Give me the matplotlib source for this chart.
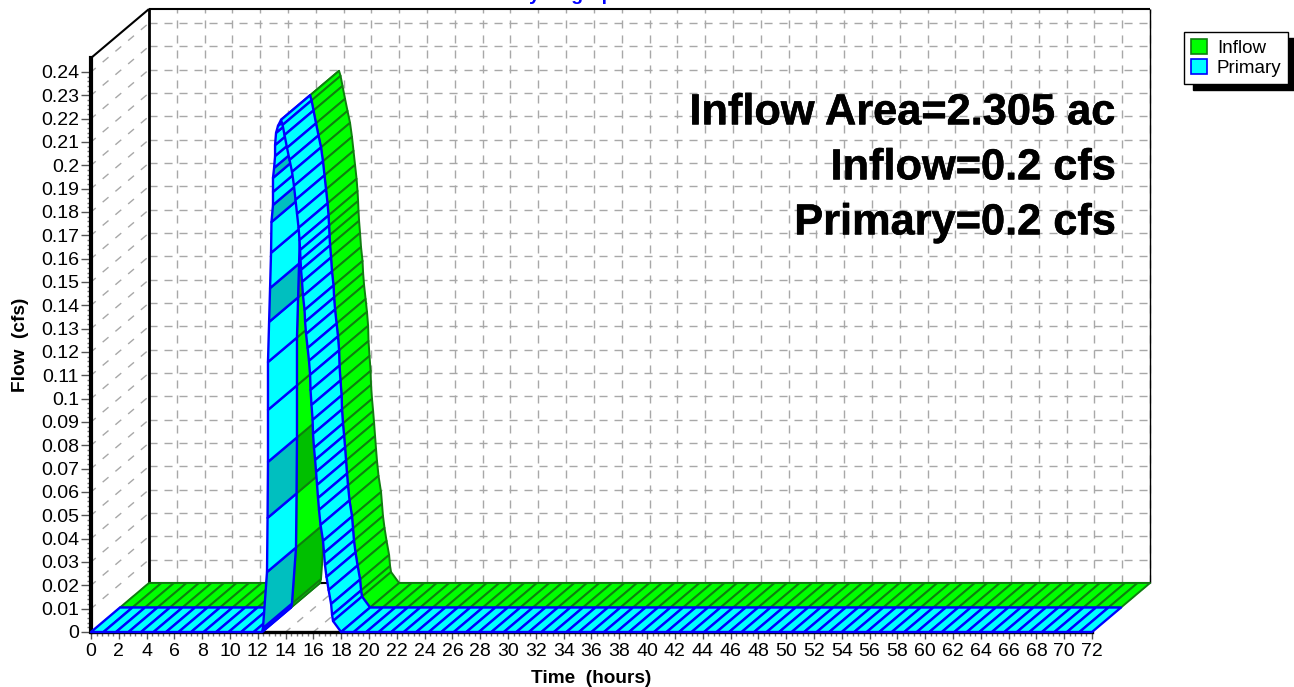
import matplotlib
matplotlib.use("Agg")
import matplotlib.pyplot as plt
import matplotlib.patheffects as pe
from matplotlib.patches import Patch, Polygon

plt.rcParams['font.family'] = ['Liberation Sans', 'DejaVu Sans']

# Hydrograph, inflow and primary sit on the same curve
flat_before = [0, 0.9, 1.8, 2.7, 3.6, 4.5, 5.4, 6.3, 7.2, 8.1, 9.0, 9.9, 10.8, 11.7]
rise_time = [12.30, 12.37, 12.66, 12.70, 12.73, 12.73, 12.73, 12.81, 12.88, 12.95,
             12.98, 13.09, 13.09, 13.09, 13.17, 13.24, 13.24, 13.31, 13.45, 13.67]
rise_flow = [0, 0.0017, 0.0257, 0.0489, 0.0729, 0.0952, 0.1157, 0.1329, 0.1474, 0.1625,
             0.1757, 0.1830, 0.1886, 0.1946, 0.1989, 0.2040, 0.2087, 0.2139, 0.2169, 0.2195]
fall_time = [13.78, 13.92, 14.10, 14.28, 14.46, 14.60, 14.71, 14.82, 14.93, 15.00,
             15.04, 15.07, 15.11, 15.18, 15.25, 15.36, 15.40, 15.47, 15.58, 15.68,
             15.76, 15.79, 15.86, 15.94, 15.97, 16.04, 16.12, 16.19, 16.26, 16.33,
             16.40, 16.51, 16.69, 16.76, 16.83, 16.94, 17.09, 17.27, 17.34, 17.41, 17.99]
fall_flow = [0.2173, 0.2130, 0.2075, 0.2023, 0.1972, 0.1912, 0.1852, 0.1792, 0.1732, 0.1680,
             0.1637, 0.1595, 0.1552, 0.1500, 0.1440, 0.1380, 0.1329, 0.1277, 0.1217, 0.1162,
             0.1102, 0.1037, 0.0973, 0.0909, 0.0849, 0.0789, 0.0737, 0.0686, 0.0630, 0.0574,
             0.0523, 0.0459, 0.0390, 0.0339, 0.0287, 0.0236, 0.0180, 0.0120, 0.0073, 0.0047, 0]
flat_after = [18.9, 19.8, 20.7, 21.6, 22.5, 23.4, 24.3, 25.2, 26.1, 27.0, 27.9, 28.8, 29.7,
              30.6, 31.5, 32.4, 33.3, 34.2, 35.1, 36.0, 36.9, 37.8, 38.7, 39.6, 40.5, 41.4,
              42.3, 43.2, 44.1, 45.0, 45.9, 46.8, 47.7, 48.6, 49.5, 50.4, 51.3, 52.2, 53.1,
              54.0, 54.9, 55.8, 56.7, 57.6, 58.5, 59.4, 60.3, 61.2, 62.1, 63.0, 63.9, 64.8,
              65.7, 66.6, 67.5, 68.4, 69.3, 70.2, 71.1, 72]
# rising panels that come out in the darker shade
dark_panels = [1, 3, 7, 10, 13]

x_ticks = list(range(0, 74, 2))
y_ticks = [i / 100 for i in range(25)]
y_labels = ["0", "0.01", "0.02", "0.03", "0.04", "0.05", "0.06", "0.07", "0.08", "0.09",
            "0.1", "0.11", "0.12", "0.13", "0.14", "0.15", "0.16", "0.17", "0.18", "0.19",
            "0.2", "0.21", "0.22", "0.23", "0.24"]
notes = ["Inflow Area=2.305 ac", "Inflow=0.2 cfs", "Primary=0.2 cfs"]

time = flat_before + rise_time + fall_time + flat_after
flow = [0] * len(flat_before) + rise_flow + fall_flow + [0] * len(flat_after)

DX = 2.086   # one depth step in hours
DY = 0.0105  # one depth step in cfs
Y_TOP = 0.246

W, H = 1294, 687
fig = plt.figure(figsize=(W / 100, H / 100), dpi=100)
ax = fig.add_axes([91 / W, (H - 632) / H, 1001 / W, 574 / H])
ax.set_xlim(0, 72)
ax.set_ylim(0, Y_TOP)

grid = dict(color='#a8a8a8', lw=1, clip_on=False, zorder=1)
for t in x_ticks:
    ax.plot([t + 2 * DX] * 2, [2 * DY, Y_TOP + 2 * DY], ls=(0, (5.8, 5)), **grid)
    ax.plot([t, t + 2 * DX], [0, 2 * DY], ls=(1, (5.5, 6.5)), **grid)
for q in y_ticks:
    ax.plot([2 * DX, 72 + 2 * DX], [q + 2 * DY] * 2, ls=(0, (5.8, 5)), **grid)
    ax.plot([0, 2 * DX], [q, q + 2 * DY], ls=(1, (5.5, 6.5)), **grid)

# box outline
box = dict(color='black', clip_on=False, zorder=1.5, solid_capstyle='butt')
ax.plot([2 * DX, 2 * DX], [2 * DY, Y_TOP + 2 * DY], lw=2, **box)
ax.plot([0, 2 * DX], [Y_TOP, Y_TOP + 2 * DY], lw=1.5, **box)
ax.plot([2 * DX, 72 + 2 * DX], [Y_TOP + 2 * DY] * 2, lw=1.5, **box)
ax.plot([72 + 2 * DX] * 2, [2 * DY, Y_TOP + 2 * DY], lw=1, **box)
ax.plot([2 * DX, 72 + 2 * DX], [2 * DY] * 2, lw=1.5, **box)


def ribbon(depth, light, dark, edge, lw, z):
    # one quad per reading, drawn left to right so the falling limb covers the rising one
    first = len(flat_before)
    for i in range(len(time) - 1):
        shade = dark if i - first in dark_panels else light
        corners = [(time[i] + depth * DX, flow[i] + depth * DY),
                   (time[i + 1] + depth * DX, flow[i + 1] + depth * DY),
                   (time[i + 1] + (depth + 1) * DX, flow[i + 1] + (depth + 1) * DY),
                   (time[i] + (depth + 1) * DX, flow[i] + (depth + 1) * DY)]
        ax.add_patch(Polygon(corners, closed=True, facecolor=shade, edgecolor=edge,
                             lw=lw, joinstyle='round', clip_on=False, zorder=z + i * 0.001))


ribbon(1, '#00ff00', '#00bf00', '#0f7f0f', 1.4, 2)
ribbon(0, '#00ffff', '#00bfbf', '#0000ff', 1.7, 3)

for side in ['top', 'right']:
    ax.spines[side].set_visible(False)
ax.spines['left'].set_linewidth(3)
ax.spines['bottom'].set_linewidth(2.4)
ax.spines['left'].set_zorder(1.8)
ax.spines['bottom'].set_zorder(1.8)

ax.set_xticks(x_ticks)
ax.set_yticks(y_ticks)
ax.set_yticklabels(y_labels)
ax.set_xticks([i * 0.4 for i in range(181)], minor=True)
ax.set_yticks([i * 0.002 for i in range(121)], minor=True)
ax.tick_params(axis='x', which='major', length=5, width=1, color='#555555', labelsize=14, pad=3)
ax.tick_params(axis='y', which='major', length=7.5, width=1, color='#555555', labelsize=14, pad=1)
ax.tick_params(which='minor', length=3, width=1, color='#777777')

ax.set_xlabel("Time  (hours)", fontweight='bold', fontsize=13.7)
ax.xaxis.set_label_coords(0.5, -0.067)
ax.set_ylabel("Flow  (cfs)", fontweight='bold', fontsize=13.7)
ax.yaxis.set_label_coords(-0.062, 0.5)

for note, y in zip(notes, [0.8845, 0.7886, 0.6928]):
    ax.text(1.024, y, note, transform=ax.transAxes, ha='right', va='baseline',
            fontsize=31.2, fontweight='bold', color='black', zorder=5,
            path_effects=[pe.withStroke(linewidth=0.4, foreground='black')])

fig.suptitle("Hydrograph", x=571 / W, y=1.0, color='#0000ff', fontsize=14,
             fontweight='bold', va='baseline', ha='center')

handles = [Patch(facecolor='#00ff00', edgecolor='#0f7f0f', lw=1.2, label="Inflow"),
           Patch(facecolor='#00ffff', edgecolor='#0000ff', lw=1.2, label="Primary")]
fig.legend(handles=handles, loc='upper left', bbox_to_anchor=(1184 / W, 1 - 32 / H),
           fontsize=13.5, fancybox=False, framealpha=1, edgecolor='black',
           shadow={'color': 'black', 'alpha': 1, 'ox': 6.5, 'oy': -4.3},
           borderaxespad=0, handlelength=0.85, handleheight=0.85, handletextpad=0.55,
           labelspacing=0.15, borderpad=0.35)

fig.savefig("out.png", dpi=100)
